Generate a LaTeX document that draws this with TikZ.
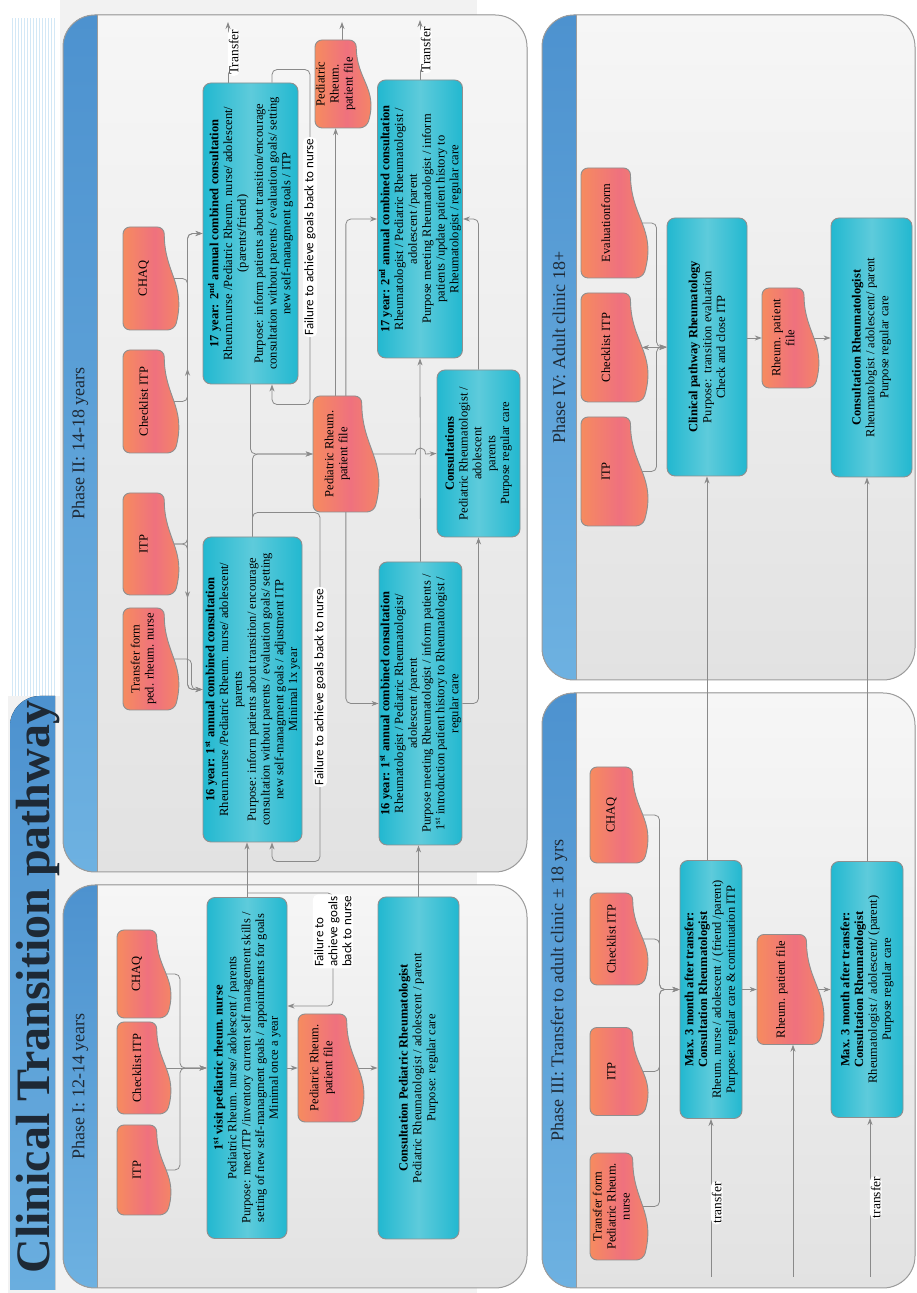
\documentclass[tikz,border=0pt]{standalone}
\usepackage{fontspec}
\setmainfont{Liberation Serif}
\newfontfamily\labelfont{Carlito}
\usetikzlibrary{arrows.meta, decorations.markings, calc}

\definecolor{lineGray}{HTML}{8A8A8A}
\definecolor{boxGray}{HTML}{8F8F8F}
\definecolor{panelGray}{HTML}{9C9C9C}
\definecolor{cyanDark}{HTML}{22B8D0}
\definecolor{cyanLight}{HTML}{5ECBDB}
\definecolor{docOrange}{HTML}{F68B5F}
\definecolor{docPink}{HTML}{EF717E}
\definecolor{headBlue}{HTML}{4D92CF}
\definecolor{headLight}{HTML}{6DB1E1}
\definecolor{panelLight}{HTML}{F6F6F6}
\definecolor{panelDark}{HTML}{E2E2E2}
\definecolor{titleInk}{HTML}{1E2935}

\pgfdeclarelayer{panels}
\pgfdeclarelayer{links}
\pgfsetlayers{panels,links,main}

\newcommand{\boxfont}{\fontsize{12.5}{13.8}\selectfont}
\newcommand{\docfont}{\fontsize{12.5}{14}\selectfont}

\begin{document}
\begin{tikzpicture}[
    cbox/.style 2 args = {draw=boxGray, line width=0.9pt, rounded corners=8,
        left color=cyanDark, right color=cyanDark, middle color=cyanLight,
        minimum width=#1, minimum height=#2, inner sep=1pt, align=center, font=\boxfont},
    docshape/.style = {draw=boxGray, line width=0.9pt, rounded corners=7,
        left color=docOrange, right color=docOrange, middle color=docPink},
    doctext/.style = {inner sep=1pt, align=center, font=\docfont},
    pics/doc/.style n args = {3}{code={
        \path[docshape] (-#1/2,-#2/2) -- (#1/2,-#2/2) -- (#1/2,#2/4)
            .. controls (0.05*#1,#2/4) and (-0.05*#1,0.65*#2) .. (-#1/2,0.4375*#2) -- cycle;
        \node[doctext, minimum width=#1, minimum height=0.75*#2] (-n) at (0,-#2/8) {#3};
        \coordinate (-s) at (0,0.4234*#2);
    }},
    headfill/.style = {top color=headBlue, bottom color=headLight},
    panelfill/.style = {top color=panelLight, bottom color=panelDark},
    headtext/.style = {text=titleInk, font=\fontsize{18}{20}\selectfont},
    pics/panel/.style n args = {3}{code={
        \fill[panelfill, rounded corners=32] (0,0) rectangle (#1,#2);
        \begin{scope}
            \clip[rounded corners=32] (0,0) rectangle (#1,#2);
            \fill[headfill] (0,0) rectangle (#1,34);
        \end{scope}
        \draw[panelGray, line width=0.8pt] (0,34) -- (#1,34);
        \draw[panelGray, line width=1pt, rounded corners=32] (0,0) rectangle (#1,#2);
        \node[headtext] (-head) at (#1/2,17) {#3};
    }},
    link/.style = {draw=lineGray, line width=0.8pt, rounded corners=5,
        -{Stealth[length=7pt,width=5pt]}},
    twoway/.style = {arrows={Stealth[length=7pt,width=5pt]-Stealth[length=7pt,width=5pt]}},
    midarrow/.style = {postaction={decorate, decoration={markings,
        mark=at position #1 with {\arrow{Stealth[length=7pt,width=5pt]}}}}},
    faillab/.style = {fill=white, inner sep=1.5pt, align=left,
        font=\labelfont\fontsize{13}{14}\selectfont},
    translab/.style = {fill=white, inner sep=1pt, font=\fontsize{13.5}{15}\selectfont},
    titletext/.style = {text=titleInk, font=\bfseries\fontsize{48}{50}\selectfont}
]
\begin{scope}[rotate=90, transform shape, x=1pt, y=-1pt]
\useasboundingbox (0,0) rectangle (1293,917);

% phases
\begin{pgfonlayer}{panels}
    \fill[gray!10] (0,8) rectangle (1293,477);
    \fill[white] (597,8) rectangle (1293,60);
    \foreach \v in {12,15,...,54}
        \draw[headLight!30, line width=0.6pt] (597,\v) -- (1275,\v);
    \pic (ph1) at (5,63) {panel={403}{464}{Phase I: 12-14 years}};
    \pic (ph2) at (421,63) {panel={857}{464}{Phase II: 14-18 years}};
    \pic (ph3) at (5,542) {panel={595}{373}{Phase III: Transfer to adult clinic ± 18 yrs}};
    \pic (ph4) at (613,542) {panel={665}{373}{Phase IV: Adult clinic 18+}};
\end{pgfonlayer}

% title
\begin{scope}
    \clip (3,10) rectangle (597,55);
    \fill[headfill, rounded corners=30] (-60,10) rectangle (597,120);
\end{scope}
\node[titletext, anchor=base west] (title) at (16,49) {Clinical Transition pathway};

% phase I
\pic (itp1) at (123,143.5) {doc={90}{53}{ITP}};
\pic (chk1) at (225,143.5) {doc={92}{53}{Checklist ITP}};
\pic (chaq1) at (319,143.5) {doc={88}{53}{CHAQ}};
\node[cbox={341}{80}] (visit1) at (225,247)
    {\textbf{1\textsuperscript{st} visit pediatric rheum. nurse}\\
     Pediatric Rheum. nurse/ adolescent / parents\\
     Purpose: meet/ITP /inventory current self management skills /\\
     setting of new self-managment goals / appointments for goals\\
     Minimal once a year};
\pic (file1) at (225,330.5) {doc={108}{65}{Pediatric Rheum.\\patient file}};
\node[cbox={342}{81}] (consult1) at (225,418.5)
    {\textbf{Consultation Pediatric Rheumatologist}\\
     Pediatric Rheumatologist / adolescent / parent\\
     Purpose: regular care};

% phase II
\pic (tf2) at (634,150.5) {doc={102}{55}{Transfer form\\ped. rheum. nurse}};
\pic (itp2) at (749,150.5) {doc={102}{55}{ITP}};
\pic (chk2) at (891.5,150.5) {doc={103}{55}{Checklist ITP}};
\pic (chaq2) at (1014.5,150.5) {doc={103}{55}{CHAQ}};
\node[cbox={305}{99}] (cons16a) at (603.5,252.5)
    {\textbf{16 year: 1\textsuperscript{st} annual combined consultation}\\
     Rheum.nurse /Pediatric Rheum. nurse/ adolescent/\\
     parents\\
     Purpose: inform patients about transition/ encourage\\
     consultation without parents / evaluation goals/ setting\\
     new self-managment goals / adjustment ITP\\
     Minimal 1x year};
\node[cbox={301}{95}] (cons17a) at (1059.5,250.5)
    {\textbf{17 year: 2\textsuperscript{nd} annual combined consultation}\\
     Rheum.nurse /Pediatric Rheum. nurse/ adolescent/\\
     (parents/friend)\\[3pt]
     Purpose: inform patients about transition/encourage\\
     consultation without parents / evaluation goals/ setting\\
     new self-managment goals / ITP};
\pic (file2) at (839,345.5) {doc={116}{65}{Pediatric Rheum.\\patient file}};
\pic (file2b) at (1209,342.5) {doc={88}{55}{Pediatric\\Rheum.\\patient file}};
\node[cbox={283}{82}] (cons16b) at (589.5,420.5)
    {\textbf{16 year: 1\textsuperscript{st} annual combined consultation}\\
     Rheumatologist / Pediatric Rheumatologist/\\
     adolescent /parent\\
     Purpose meeting Rheumatologist / inform patients /\\
     1\textsuperscript{st} introduction patient history to Rheumatologist /\\
     regular care};
\node[cbox={167}{83}] (consul2) at (839.5,478.5)
    {\textbf{Consultations}\\
     Pediatric Rheumatologist /\\
     adolescent\\
     parents\\
     Purpose regular care};
\node[cbox={278}{85}] (cons17b) at (1074,420)
    {\textbf{17 year: 2\textsuperscript{nd} annual combined consultation}\\
     Rheumatologist / Pediatric Rheumatologist /\\
     adolescent /parent\\
     Purpose meeting Rheumatologist / inform\\
     patients /update patient history to\\
     Rheumatologist / regular care};

% phase III
\pic (tf3) at (86.5,618.5) {doc={107}{57}{Transfer form\\Pediatric Rheum.\\nurse}};
\pic (itp3) at (221.5,618.5) {doc={88}{57}{ITP}};
\pic (chk3) at (354,618.5) {doc={92}{57}{Checklist ITP}};
\pic (chaq3) at (478,618.5) {doc={96}{57}{CHAQ}};
\node[cbox={258}{62}] (cons3a) at (303.5,711)
    {\textbf{Max. 3 month after transfer:}\\
     \textbf{Consultation Rheumatologist}\\
     Rheum. nurse / adolescent / (friend /parent)\\
     Purpose: regular care \& continuation ITP};
\pic (file3) at (303.5,790) {doc={110}{66}{Rheum. patient file}};
\node[cbox={256}{72}] (cons3b) at (303.5,867)
    {\textbf{Max. 3 month after transfer:}\\
     \textbf{Consultation Rheumatologist}\\
     Rheumatologist / adolescent/ (parent)\\
     Purpose regular care};

% phase IV
\pic (itp4) at (821.5,614) {doc={109}{66}{ITP}};
\pic (chk4) at (945.5,614) {doc={109}{66}{Checklist ITP}};
\pic (eval4) at (1070,614) {doc={110}{66}{Evaluationform}};
\node[cbox={258}{80}] (cons4a) at (946,707)
    {\textbf{Clinical pathway Rheumatology}\\
     Purpose:\ \ transition evaluation\\
     Check and close ITP};
\pic (file4) at (955,790) {doc={100}{56}{Rheum. patient\\file}};
\node[cbox={259}{81}] (cons4b) at (945.5,871.5)
    {\textbf{Consultation Rheumatologist}\\
     Rheumatologist / adolescent/ parent\\
     Purpose regular care};

\coordinate (fail1) at ([xshift=4pt]visit1.east);
\coordinate (outA) at (1271,228);
\coordinate (outB) at (1271,342);
\coordinate (outC) at (1273,420);
\coordinate (inA) at (16,711);
\coordinate (inB) at (16,793);
\coordinate (inC) at (16,870);

\begin{pgfonlayer}{links}
    % phase I
    \draw[link] (itp1-n.south) -- ++(0,23) -| (visit1.north);
    \draw[link] (chk1-n.south) -- (visit1.north);
    \draw[link] (chaq1-n.south) -- ++(0,23) -| (visit1.north);
    \draw[link] (visit1.south) -- (file1-n.north);
    \draw[link] (file1-n.south) -- (consult1.north);
    \draw[link] (fail1) -- ++(0,86) -| ([xshift=62pt]visit1.south)
        node[faillab, pos=0.17] (fl1) {Failure to\\achieve goals\\back to nurse};
    \draw[link] (visit1.east) -- (visit1.east -| cons16a.west);
    \draw[link] (consult1.east) -- (consult1.east -| cons16b.west);

    % phase II
    \draw[link] (tf2-n.south) |- ([yshift=11pt]cons16a.north) -- (cons16a.north);
    \draw[link, midarrow=0.42] (itp2-n.south) |- ([yshift=15pt]cons16a.north) -- (cons16a.north);
    \draw[link] (chaq2-n.south) |- ([yshift=15pt]cons16a.north) -- (cons16a.north);
    \draw[link, midarrow=0.57] (itp2-n.south) |- ([yshift=15pt]cons17a.north) -- (cons17a.north);
    \draw[link] (chk2-n.south) |- ([yshift=15pt]cons17a.north) -- (cons17a.north);
    \draw[link] (cons16a.east) -| (file2-n.north);
    \draw[link] (cons17a.west) -| (file2-n.north);
    \draw[link] (cons16a.east) -- ++(24,0) -- ++(0,67.5) -- ++(-349,0)
        node[faillab, pos=0.5] (fl2) {Failure to achieve goals back to nurse}
        -- ++(0,-48) -- ([yshift=-19.5pt]cons16a.west);
    \draw[link] ([yshift=-21.5pt]cons17a.east) -- ++(13,0) -- ++(0,38) -- ++(-335,0)
        node[faillab, pos=0.5] (fl3) {Failure to achieve goals back to nurse}
        -- ++(0,-38) -- ([yshift=-21.5pt]cons17a.west);
    \draw[link] (cons17a.east |- outA) -- (outA)
        node[translab, pos=0.5, below=-0.5pt] (tr1) {Transfer};
    \draw[link] (file2b-n.east |- outB) -- (outB);
    \draw[link] (cons17b.east) -- (outC)
        node[translab, pos=0.5, below=-0.5pt] (tr2) {Transfer};
    \draw[link] (file2-n.east |- file2b-n.west) -- (file2b-n.west);
    \draw[link] ([yshift=-8.5pt]file2-n.west) -| (cons16b.north);
    \draw[link] ([yshift=-8.5pt]file2-n.east) -| (cons17b.north);
    \draw[link] (cons16b.east) -- (cons17b.west);
    \draw[link] (cons16b.south) |- (consul2.west);
    \draw[link] (consul2.east) -| (cons17b.south);
    \draw[link, sharp corners] (file2-n.south) -- ($(file2-n.south |- cons16b.east)+(0,-5)$)
        .. controls +(8,0) and +(8,0) .. ($(file2-n.south |- cons16b.east)+(0,5)$)
        -- (consul2.north);

    % phase III
    \draw[link] (tf3-n.south) |- ([yshift=20pt]cons3a.north) -- (cons3a.north);
    \draw[link] (itp3-n.south) |- ([yshift=20pt]cons3a.north) -- (cons3a.north);
    \draw[link] (chk3-n.south) |- ([yshift=20pt]cons3a.north) -- (cons3a.north);
    \draw[link] (chaq3-n.south) |- ([yshift=20pt]cons3a.north) -- (cons3a.north);
    \draw[link] (cons3a.south) -- (file3-n.north);
    \draw[link] (file3-n.south) -- (cons3b.north);
    \draw[link] (inA) -- (cons3a.west)
        node[translab, pos=0.47, below=-0.5pt] (tr3) {transfer};
    \draw[link] (inB) -- (inB -| file3-n.west);
    \draw[link] (inC) -- (inC -| cons3b.west)
        node[translab, pos=0.5, below=-0.5pt] (tr4) {transfer};
    \draw[link] (cons3a.east |- cons4a.west) -- (cons4a.west);
    \draw[link] (cons3b.east) -- (cons3b.east -| cons4b.west);

    % phase IV
    \draw[link] (itp4-n.south) |- ([yshift=10pt]cons4a.north) -- (cons4a.north);
    \draw[link, twoway] (chk4-s) -- (chk4-s |- cons4a.north);
    \draw[link] (eval4-n.south) |- ([yshift=10pt]cons4a.north) -- (cons4a.north);
    \draw[link] (cons4a.south -| file4-n.north) -- (file4-n.north);
    \draw[link] (file4-n.south) -- (file4-n.south |- cons4b.north);
\end{pgfonlayer}
\end{scope}
\end{tikzpicture}
\end{document}
